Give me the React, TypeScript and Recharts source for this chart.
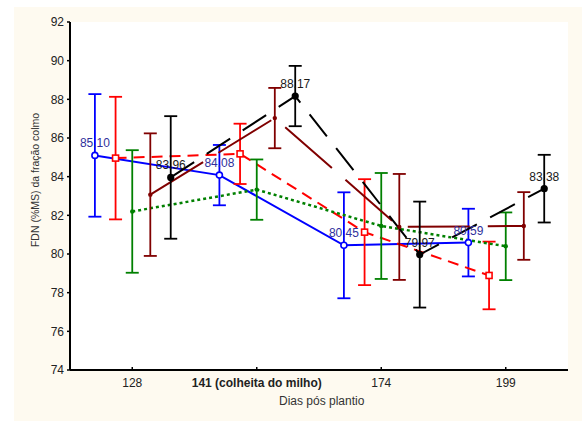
import React from 'react'
import { ComposedChart, Line, XAxis, YAxis, ErrorBar, CartesianGrid, LabelList } from 'recharts'

// categories on the x axis (days after planting)
const categories = ['128', '141 (colheita do milho)', '174', '199']
const yTicks = [74, 76, 78, 80, 82, 84, 86, 88, 90, 92]

// half-length of the error bars, per category
const stdError = [3.17, 1.56, 2.74, 1.75]

const blueValues = [85.1, 84.08, 80.45, 80.59]
const redValues = [84.96, 85.18, 81.13, 78.89]
const greenValues = [82.2, 83.33, 81.45, 80.4]
const maroonValues = [83.07, 87.03, 81.4, 81.45]
const blackValues = [83.96, 88.17, 79.97, 83.38]

const FONT = '"Liberation Sans", Arial, sans-serif'

const openCircle = (color: string) => (p: any) => (
  <circle key={p.index} cx={p.cx} cy={p.cy} r={3} fill="#fff" stroke={color} strokeWidth={1.6} />
)
const openSquare = (color: string) => (p: any) => (
  <rect key={p.index} x={p.cx - 3} y={p.cy - 3} width={6} height={6} fill="#fff" stroke={color} strokeWidth={1.6} />
)
const filledDot = (color: string, r: number) => (p: any) => (
  <circle key={p.index} cx={p.cx} cy={p.cy} r={r} fill={color} stroke="none" />
)

// offset (in band units) keeps the five treatments side by side in each group
const series = [
  { key: 'blue', values: blueValues, color: '#0000ff', offset: -0.3, dash: undefined, width: 2, dot: openCircle('#0000ff'), label: '#30309c' },
  { key: 'red', values: redValues, color: '#ff0000', offset: -0.134, dash: '11 7', width: 2, dot: openSquare('#ff0000'), label: null },
  { key: 'green', values: greenValues, color: '#008000', offset: 0, dash: '3 3', width: 2.5, dot: filledDot('#008000', 2.2), label: null },
  { key: 'maroon', values: maroonValues, color: '#800000', offset: 0.145, dash: '62 18', width: 2, dot: filledDot('#800000', 2.2), label: null },
  { key: 'black', values: blackValues, color: '#000000', offset: 0.309, dash: '28 15', width: 2, dot: filledDot('#000000', 3.6), label: '#1a1a1a' },
]

const XTick = ({ x, y, payload }: any) => {
  const i = Math.round(payload.value - 0.5)
  return (
    <g>
      <line x1={x} x2={x} y1={y} y2={y - 3} stroke="#000" strokeWidth={1.5} />
      <text x={x} y={y + 17} textAnchor="middle" fontSize={12} fontFamily={FONT}
        fontWeight={i === 1 ? 700 : 400} fill="#222">
        {categories[i]}
      </text>
    </g>
  )
}

const valueLabel = (color: string) => (p: any) => {
  const x = p.x ?? p.viewBox?.x
  const y = p.y ?? p.viewBox?.y
  return (
    <text key={p.index} x={x} y={y - 8} textAnchor="middle" fontSize={12} fontFamily={FONT} fill={color}>
      {Number(p.value).toFixed(2)}
    </text>
  )
}

export default function App() {
  return (
    <div style={{ position: 'absolute', left: 0, top: 0, width: 585, height: 421, background: '#fff', fontFamily: FONT }}>
      <div style={{ position: 'absolute', left: 14, top: 7, width: 568, height: 414, background: '#fefaf0' }} />

      <div style={{ position: 'absolute', left: 0, top: 0 }}>
        <ComposedChart width={585} height={421} margin={{ top: 22, right: 17, bottom: 11, left: 14 }}>
          <CartesianGrid horizontal={false} vertical={false} fill="#ffffff" />
          <XAxis
            type="number"
            dataKey="x"
            domain={[0, 4]}
            ticks={[0.5, 1.5, 2.5, 3.5]}
            allowDataOverflow
            height={40}
            axisLine={{ stroke: '#000', strokeWidth: 2 }}
            tickLine={false}
            tickSize={0}
            tickMargin={0}
            tick={<XTick />}
            interval={0}
          />
          <YAxis
            type="number"
            domain={[74, 92]}
            ticks={yTicks}
            allowDataOverflow
            width={56}
            axisLine={{ stroke: '#000', strokeWidth: 2 }}
            tickLine={{ stroke: '#000', strokeWidth: 1.5 }}
            tickSize={3}
            tickMargin={3}
            tick={{ fontSize: 12, fill: '#222', fontFamily: FONT }}
            interval={0}
          />
          {series.map((s) => (
            <Line
              key={s.key}
              data={s.values.map((v, i) => ({ x: i + 0.5 + s.offset, y: v, err: stdError[i] }))}
              dataKey="y"
              type="linear"
              stroke={s.color}
              strokeWidth={s.width}
              strokeDasharray={s.dash}
              dot={s.dot}
              activeDot={false}
              legendType="none"
              isAnimationActive={false}
            >
              <ErrorBar dataKey="err" direction="y" width={6.5} strokeWidth={1.8} stroke={s.color} isAnimationActive={false} />
              {s.label && <LabelList dataKey="y" content={valueLabel(s.label)} />}
            </Line>
          ))}
        </ComposedChart>
      </div>

      <div style={{ position: 'absolute', left: 221.7, top: 393.8, width: 200, textAlign: 'center', fontSize: 12, lineHeight: '14px', color: '#333' }}>
        Dias pós plantio
      </div>
      <div style={{
        position: 'absolute', left: 35.3, top: 180, transform: 'translate(-50%, -50%) rotate(-90deg)',
        whiteSpace: 'nowrap', fontSize: 10.5, lineHeight: '12px', color: '#333',
      }}>
        FDN (%MS) da fração colmo
      </div>
    </div>
  )
}
